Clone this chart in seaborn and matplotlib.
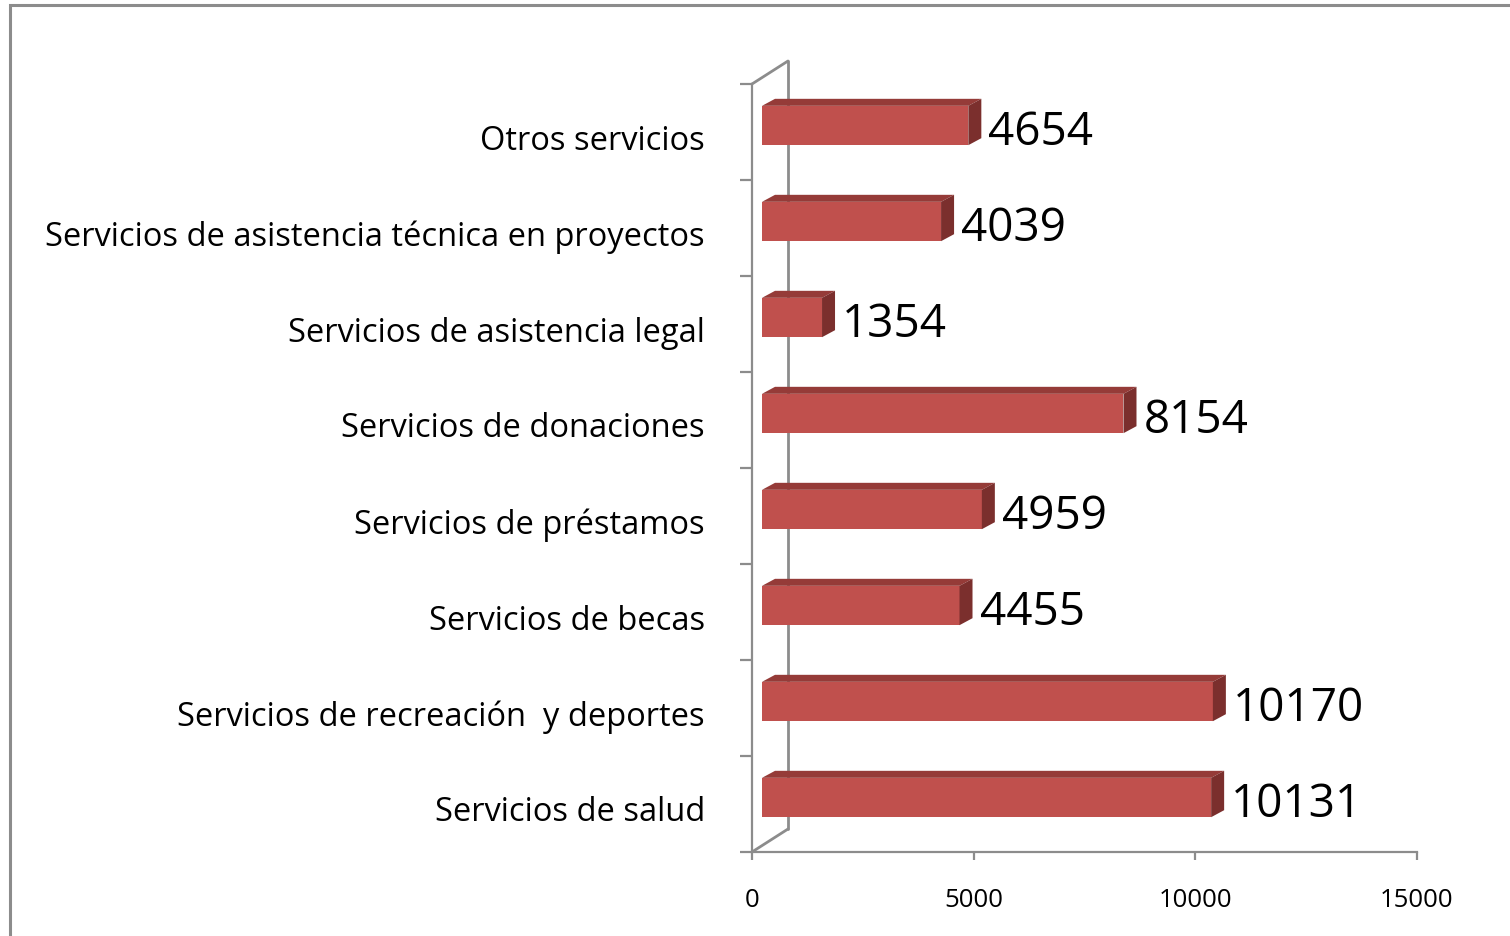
import matplotlib
matplotlib.use("Agg")
import matplotlib.pyplot as plt
import seaborn as sns
import pandas as pd
from matplotlib.transforms import ScaledTranslation
from matplotlib.patches import Polygon, Rectangle
from matplotlib.ticker import FixedLocator

categories = [
    "Otros servicios",
    "Servicios de asistencia técnica en proyectos",
    "Servicios de asistencia legal",
    "Servicios de donaciones",
    "Servicios de préstamos",
    "Servicios de becas",
    "Servicios de recreación  y deportes",
    "Servicios de salud",
]
values = [4654, 4039, 1354, 8154, 4959, 4455, 10170, 10131]
x_ticks = [0, 5000, 10000, 15000]

FRONT = "#C0504D"
TOP = "#953B38"
SIDE = "#7B2F2D"
AXC = "#8C8C8C"

sns.set_theme(style="white")
plt.rcParams["font.family"] = ["Open Sans", "DejaVu Sans"]

W, H, DPI = 1510, 937, 100
fig = plt.figure(figsize=(W / DPI, H / DPI), dpi=DPI)
ax = fig.add_axes([752 / W, 1 - 853 / H, (1417 - 752) / W, (853 - 85) / H])

df = pd.DataFrame({"cat": categories, "val": values})
sns.barplot(data=df, x="val", y="cat", orient="h", color=FRONT, width=0.41,
            saturation=1, ax=ax, zorder=3)

ax.set_xlim(0, 15000)
ax.set_ylim(len(categories) - 0.5, -0.5)

# pixel -> data conversions
px_x = 15000 / 665.0
px_y = 1.0 / 96.0

off_dx, off_dy = 10, 6.5      # front-face offset (pixels, right / up)
dep_dx, dep_dy = 13, 7        # depth of the 3D block (pixels)

shift = ScaledTranslation(off_dx / DPI, off_dy / DPI, fig.dpi_scale_trans)
for p in list(ax.patches):
    p.set_transform(ax.transData + shift)
    p.set_edgecolor("none")
    x0, y0 = p.get_x(), p.get_y()
    w, h = p.get_width(), p.get_height()
    ytop = y0            # inverted axis: smaller y is higher
    ybot = y0 + h
    ddx = dep_dx * px_x
    ddy = dep_dy * px_y
    top = Polygon([(x0, ytop), (x0 + w, ytop), (x0 + w + ddx, ytop - ddy), (x0 + ddx, ytop - ddy)],
                  closed=True, facecolor=TOP, edgecolor="none", zorder=3,
                  transform=ax.transData + shift)
    side = Polygon([(x0 + w, ytop), (x0 + w + ddx, ytop - ddy), (x0 + w + ddx, ybot - ddy), (x0 + w, ybot)],
                   closed=True, facecolor=SIDE, edgecolor="none", zorder=3,
                   transform=ax.transData + shift)
    ax.add_patch(top)
    ax.add_patch(side)

# value labels
for i, v in enumerate(values):
    ax.annotate(f"{v}", xy=(v, i), xytext=((off_dx + dep_dx + 7) * 0.72, off_dy * 0.72 - 4.5),
                textcoords="offset points", ha="left", va="center",
                fontsize=33, color="black", zorder=5)

# axes styling
for s in ["top", "right"]:
    ax.spines[s].set_visible(False)
for s in ["left", "bottom"]:
    ax.spines[s].set_color(AXC)
    ax.spines[s].set_linewidth(1.6)

ax.set_xlabel("")
ax.set_ylabel("")
ax.set_xticks(x_ticks)
ax.set_xticklabels([str(t) for t in x_ticks])
ax.tick_params(axis="x", bottom=True, length=6, width=1.6, color=AXC, direction="out",
               pad=19, labelsize=18.5, labelcolor="black")
ax.tick_params(axis="y", which="major", left=False, length=0, pad=34, labelsize=23.5,
               labelcolor="black")
ax.yaxis.set_minor_locator(FixedLocator([i - 0.5 for i in range(len(categories) + 1)]))
ax.tick_params(axis="y", which="minor", left=True, length=9, width=1.6, color=AXC, direction="out")
ax.grid(False)

down = ScaledTranslation(0, -4 / DPI, fig.dpi_scale_trans)
for lbl in ax.get_yticklabels():
    lbl.set_transform(lbl.get_transform() + down)

# back wall of the 3D frame
back = ScaledTranslation(36 / DPI, 23 / DPI, fig.dpi_scale_trans)
ax.plot([0, 0], [len(categories) - 0.5, -0.5], color=AXC, lw=2.0, zorder=1,
        transform=ax.transData + back, clip_on=False)
ax.plot([0, 36 * px_x], [-0.5, -0.5 - 23 * px_y], color=AXC, lw=2.0, zorder=1, clip_on=False)
ax.plot([0, 36 * px_x], [len(categories) - 0.5, len(categories) - 0.5 - 23 * px_y],
        color=AXC, lw=2.0, zorder=1, clip_on=False)

# outer frame of the chart area
fig.patches.append(Rectangle((10 / W, -0.1), 1.2, 1 - 6 / H + 0.1, transform=fig.transFigure,
                             fill=False, edgecolor=AXC, linewidth=2.2))

fig.savefig("out.png", dpi=DPI)
